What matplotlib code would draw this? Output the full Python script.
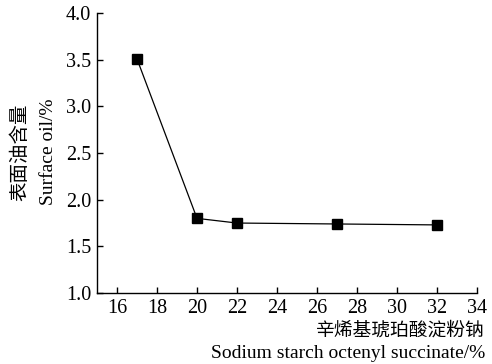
import matplotlib
matplotlib.use("Agg")
import matplotlib.pyplot as plt

# OSA content (%) vs surface oil (%)
osa_content = [17, 20, 22, 27, 32]
surface_oil = [3.51, 1.80, 1.75, 1.74, 1.73]

x_ticks = [16, 18, 20, 22, 24, 26, 28, 30, 32, 34]
y_ticks = [1.0, 1.5, 2.0, 2.5, 3.0, 3.5, 4.0]

serif = ["Liberation Serif", "DejaVu Serif"]
cjk = ["Noto Sans CJK SC", "DejaVu Sans"]

fig = plt.figure(figsize=(4.92, 3.64), dpi=100)
ax = fig.add_axes([0.197, 0.195, 0.773, 0.769])

ax.plot(osa_content, surface_oil, color="black", linewidth=0.9,
        marker="s", markersize=6.5, markerfacecolor="black")

ax.set_xlim(15, 34)
ax.set_ylim(1.0, 4.0)
ax.set_xticks(x_ticks)
ax.set_yticks(y_ticks)
ax.set_xticklabels([str(t) for t in x_ticks], fontfamily=serif, fontsize=14.5)
ax.set_yticklabels([f"{t:.1f}" for t in y_ticks], fontfamily=serif, fontsize=14.5)
ax.tick_params(direction="in", length=4.5, width=1)
ax.tick_params(axis="y", pad=4)
ax.tick_params(axis="x", pad=4)

ax.spines["top"].set_visible(False)
ax.spines["right"].set_visible(False)
for s in ("left", "bottom"):
    ax.spines[s].set_linewidth(1)

# y label: two lines
fig.text(0.041, 0.582, "表面油含量", rotation=90, ha="center", va="center",
         fontfamily=cjk, fontsize=14)
fig.text(0.098, 0.582, "Surface oil/%", rotation=90, ha="center", va="center",
         fontfamily=serif, fontsize=14)

# x label: two lines, right aligned
fig.text(0.986, 0.092, "辛烯基琥珀酸淀粉钠", ha="right", va="center",
         fontfamily=cjk, fontsize=13.5)
fig.text(0.986, 0.028, "Sodium starch octenyl succinate/%", ha="right", va="center",
         fontfamily=serif, fontsize=14)

fig.savefig("out.png", dpi=100)
